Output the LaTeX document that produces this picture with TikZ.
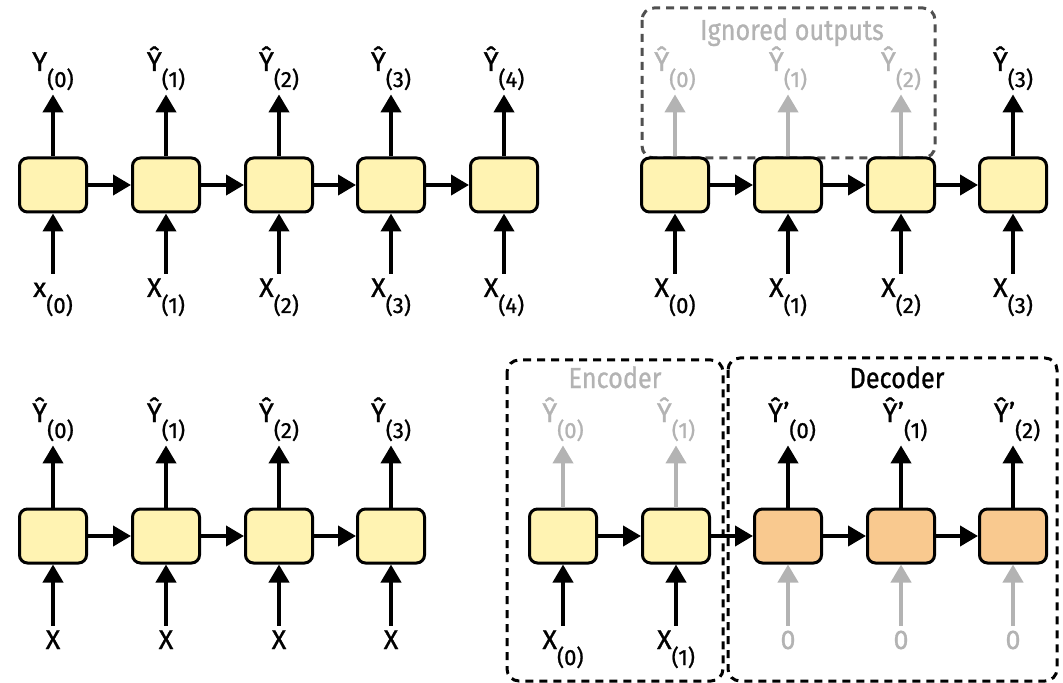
\documentclass[tikz,border=0pt]{standalone}
\usepackage{fontspec}
\setmainfont{Fira Sans}[FakeBold=1]
\newfontfamily\titlefont{Fira Sans}[FakeStretch=0.87, FakeBold=0.8]
\usetikzlibrary{arrows.meta}

\definecolor{cellyellow}{HTML}{FFF3B2}
\definecolor{cellorange}{HTML}{F9C98F}
\definecolor{ghost}{HTML}{B3B3B3}
\definecolor{frame}{HTML}{505050}

% step index set below the letter
\newcommand{\idx}[1]{\raisebox{-8pt}{\fontsize{11}{12}\selectfont(#1)}}

\tikzset{
  cell/.style={draw, line width=1.5pt, rounded corners=4pt, fill=cellyellow,
    minimum width=33.5pt, minimum height=27pt, inner sep=0pt},
  arr/.style={line width=2pt, -{Triangle[width=10pt,length=9pt]}},
  lbl/.style={font=\fontsize{13.5}{15}\selectfont, inner sep=1pt,
    text height=9.5pt, text depth=10.5pt, anchor=base},
  group/.style={line width=1.5pt, dash pattern=on 4pt off 3pt, rounded corners=6pt},
  title/.style={font=\titlefont\fontsize{14.5}{16}\selectfont, inner sep=0pt, anchor=base},
}

\begin{document}
\begin{tikzpicture}[x=0.5pt, y=-0.5pt]
  \useasboundingbox (0,0) rectangle (1063,683);

  % sequence to sequence
  \foreach \i/\cx/\yl/\xl in {0/53/Y/x,1/166/Ŷ/X,2/279/Ŷ/X,3/391/Ŷ/X,4/504/Ŷ/X} {
    \node[cell] (a\i) at (\cx,185) {};
    \node[lbl] (ay\i) at (\cx,71) {\yl\idx{\i}};
    \node[lbl] (ax\i) at (\cx,297) {\xl\idx{\i}};
    \draw[arr] (a\i.north) -- (a\i.north |- ay\i.south);
    \draw[arr, shorten <=1pt] (a\i.south |- ax\i.north) -- (a\i.south);
  }
  \foreach \i [count=\j] in {0,...,3}
    \draw[arr] (a\i) -- (a\j);

  % sequence to vector
  \draw[group, draw=frame] (642,8) rectangle (935,158);
  \node[title, text=ghost] (ignored) at (792,40) {Ignored outputs};
  \foreach \i/\cx in {0/675,1/788,2/901,3/1013} {
    \node[cell] (b\i) at (\cx,185) {};
    \node[lbl] (bx\i) at (\cx,297) {X\idx{\i}};
    \draw[arr, shorten <=1pt] (b\i.south |- bx\i.north) -- (b\i.south);
  }
  \foreach \i in {0,1,2} {
    \node[lbl, text=ghost] (by\i) at (b\i.center |- 0,71) {Ŷ\idx{\i}};
    \draw[arr, ghost] (b\i.north) -- (b\i.north |- by\i.south);
  }
  \node[lbl] (by3) at (b3.center |- 0,71) {Ŷ\idx{3}};
  \draw[arr] (b3.north) -- (b3.north |- by3.south);
  \foreach \i [count=\j] in {0,1,2}
    \draw[arr] (b\i) -- (b\j);

  % vector to sequence
  \foreach \i/\cx in {0/53,1/166,2/279,3/391} {
    \node[cell] (c\i) at (\cx,536) {};
    \node[lbl] (cy\i) at (\cx,422) {Ŷ\idx{\i}};
    \node[lbl] (cx\i) at (\cx,649) {X};
    \draw[arr] (c\i.north) -- (c\i.north |- cy\i.south);
    \draw[arr, shorten <=1pt] (c\i.south |- cx\i.north) -- (c\i.south);
  }
  \foreach \i [count=\j] in {0,1,2}
    \draw[arr] (c\i) -- (c\j);

  % encoder - decoder
  \draw[group] (507,360) rectangle (723,681);
  \draw[group] (728,358) rectangle (1057,681);
  \node[title, text=ghost] (enc) at (615,388) {Encoder};
  \node[title] (dec) at (897,388) {Decoder};
  \foreach \i/\cx in {0/563,1/676} {
    \node[cell] (d\i) at (\cx,536) {};
    \node[lbl, text=ghost] (dy\i) at (\cx,422) {Ŷ\idx{\i}};
    \node[lbl] (dx\i) at (\cx,649) {X\idx{\i}};
    \draw[arr, ghost] (d\i.north) -- (d\i.north |- dy\i.south);
    \draw[arr, shorten <=1pt] (d\i.south |- dx\i.north) -- (d\i.south);
  }
  \foreach \i/\k/\cx in {2/0/788,3/1/901,4/2/1013} {
    \node[cell, fill=cellorange] (d\i) at (\cx,536) {};
    \node[lbl] (dy\i) at (\cx+4,422) {Ŷ'\idx{\k}};
    \node[lbl, text=ghost] (dx\i) at (\cx,649) {0};
    \draw[arr] (d\i.north) -- (d\i.north |- dy\i.south);
    \draw[arr, ghost, shorten <=1pt] (d\i.south |- dx\i.north) -- (d\i.south);
  }
  \foreach \i [count=\j from 1] in {0,...,3}
    \draw[arr] (d\i) -- (d\j);
\end{tikzpicture}
\end{document}
